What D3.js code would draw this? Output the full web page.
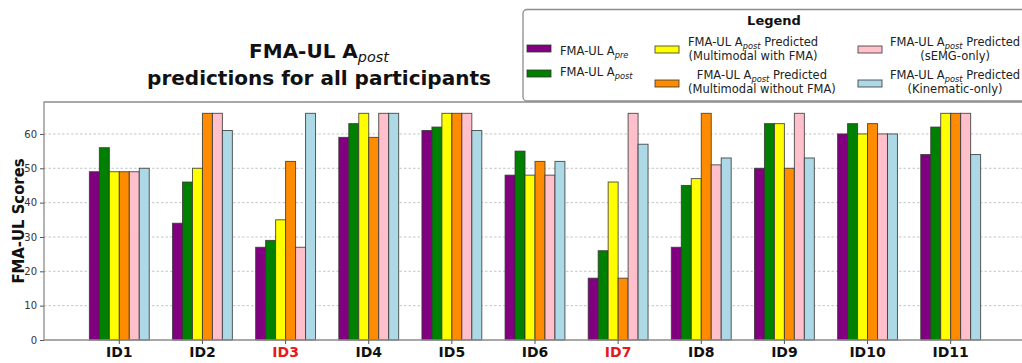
<!DOCTYPE html>
<html>
<head>
<meta charset="utf-8">
<script src="https://cdn.jsdelivr.net/npm/d3@7"></script>
<style>
  html, body { margin: 0; padding: 0; background: #fff; overflow: hidden; }
  svg { display: block; font-family: "DejaVu Sans", sans-serif; }
</style>
</head>
<body>
<svg id="chart" width="1022" height="363"></svg>
<script>
// Participants and their FMA-UL scores
const participants = ["ID1", "ID2", "ID3", "ID4", "ID5", "ID6", "ID7", "ID8", "ID9", "ID10", "ID11"];
const highlighted = ["ID3", "ID7"];

const apre          = [49, 34, 27, 59, 61, 48, 18, 27, 50, 60, 54];
const apost         = [56, 46, 29, 63, 62, 55, 26, 45, 63, 63, 62];
const predWithFma   = [49, 50, 35, 66, 66, 48, 46, 47, 63, 60, 66];
const predNoFma     = [49, 66, 52, 59, 66, 52, 18, 66, 50, 63, 66];
const predSemg      = [49, 66, 27, 66, 66, 48, 66, 51, 66, 60, 66];
const predKinematic = [50, 61, 66, 66, 61, 52, 57, 53, 53, 60, 54];

const yTicks = [0, 10, 20, 30, 40, 50, 60];

const series = [
  { key: "apre",  values: apre,          color: "#800080" },
  { key: "apost", values: apost,         color: "#008000" },
  { key: "withF", values: predWithFma,   color: "#ffff00" },
  { key: "noF",   values: predNoFma,     color: "#ff8c00" },
  { key: "semg",  values: predSemg,      color: "#ffc0cb" },
  { key: "kin",   values: predKinematic, color: "#add8e6" }
];

const svg = d3.select("#chart");

// Plot frame (right edge runs just past the canvas)
const plotL = 44, plotR = 1026, plotT = 102, plotB = 340;

const x = d3.scaleBand()
  .domain(participants)
  .range([plotL, plotR])
  .paddingInner(0)
  .paddingOuter(0.406);

const groupWidth = x.bandwidth() * 0.72;
const xs = d3.scaleBand()
  .domain(series.map(s => s.key))
  .range([0, groupWidth])
  .padding(0);

const y = d3.scaleLinear().domain([0, 69.3]).range([plotB, plotT]);

// Grid
svg.append("g")
  .selectAll("line")
  .data(yTicks.filter(t => t > 0))
  .join("line")
  .attr("x1", plotL).attr("x2", plotR)
  .attr("y1", d => y(d)).attr("y2", d => y(d))
  .attr("stroke", "#b8b8b8")
  .attr("stroke-width", 0.8)
  .attr("stroke-dasharray", "2.5,2");

// Bars
const groups = svg.append("g")
  .selectAll("g")
  .data(participants)
  .join("g")
  .attr("transform", d => `translate(${x(d) + (x.bandwidth() - groupWidth) / 2},0)`);

groups.selectAll("rect")
  .data((p, i) => series.map(s => ({ key: s.key, color: s.color, v: s.values[i] })))
  .join("rect")
  .attr("x", d => xs(d.key))
  .attr("width", xs.bandwidth())
  .attr("y", d => y(d.v))
  .attr("height", d => y(0) - y(d.v))
  .attr("fill", d => d.color)
  .attr("stroke", "#333")
  .attr("stroke-opacity", 0.8)
  .attr("stroke-width", 1);

// Frame: left, top and bottom spines
svg.append("path")
  .attr("d", `M${plotR},${plotT}H${plotL}V${plotB}H${plotR}`)
  .attr("fill", "none")
  .attr("stroke", "#8c8c8c")
  .attr("stroke-width", 1.3);

// Y axis
const yAxis = svg.append("g")
  .attr("transform", `translate(${plotL},0)`)
  .call(d3.axisLeft(y).tickValues(yTicks).tickSize(4).tickPadding(3));
yAxis.select(".domain").remove();
yAxis.selectAll(".tick line").attr("stroke", "#555");
yAxis.selectAll(".tick text")
  .attr("font-family", "DejaVu Sans, sans-serif")
  .attr("font-size", 10)
  .attr("fill", "#333");

// X axis
const xAxis = svg.append("g")
  .attr("transform", `translate(0,${plotB})`)
  .call(d3.axisBottom(x).tickSize(4).tickPadding(3));
xAxis.select(".domain").remove();
xAxis.selectAll(".tick line").attr("stroke", "#555");
xAxis.selectAll(".tick text")
  .attr("font-family", "DejaVu Sans, sans-serif")
  .attr("font-size", 14)
  .attr("font-weight", "bold")
  .attr("fill", d => highlighted.includes(d) ? "#e41a1c" : "#111");

// Y axis label
svg.append("text")
  .attr("transform", `translate(24,${(plotT + plotB) / 2}) rotate(-90) scale(0.9,1)`)
  .attr("text-anchor", "middle")
  .attr("font-size", 16.5)
  .attr("font-weight", "bold")
  .attr("fill", "#111")
  .text("FMA-UL Scores");

// Helper: text with an italic subscript part
function labelWithSub(sel, before, sub, after, size) {
  sel.append("tspan").text(before);
  sel.append("tspan")
    .attr("font-style", "italic")
    .attr("font-weight", "normal")
    .attr("font-size", size * 0.72)
    .attr("dy", size * 0.22)
    .text(sub);
  sel.append("tspan").attr("dy", -size * 0.22).text(after || "");
  return sel;
}

// Title
const title1 = svg.append("text")
  .attr("x", 319).attr("y", 58)
  .attr("text-anchor", "middle")
  .attr("font-size", 20)
  .attr("font-weight", "bold")
  .attr("fill", "#111");
labelWithSub(title1, "FMA-UL A", "post", "", 20);

svg.append("text")
  .attr("x", 319).attr("y", 85)
  .attr("text-anchor", "middle")
  .attr("font-size", 20)
  .attr("font-weight", "bold")
  .attr("fill", "#111")
  .text("predictions for all participants");

// Legend
const legend = svg.append("g");
legend.append("rect")
  .attr("x", 523).attr("y", 9.5)
  .attr("width", 510).attr("height", 91.5)
  .attr("rx", 4)
  .attr("fill", "#fff")
  .attr("stroke", "#8c8c8c")
  .attr("stroke-width", 1.3);

legend.append("text")
  .attr("x", 774).attr("y", 25)
  .attr("text-anchor", "middle")
  .attr("font-size", 13)
  .attr("font-weight", "bold")
  .attr("fill", "#111")
  .text("Legend");

const legendFont = 11.5;
const legendItems = [
  { color: series[0].color, hx: 527, hy: 45, tx: 560, lines: [["FMA-UL A", "pre", ""]], base: [55] },
  { color: series[1].color, hx: 527, hy: 70, tx: 560, lines: [["FMA-UL A", "post", ""]], base: [76] },
  { color: series[2].color, hx: 655, hy: 46, tx: 688, lines: [["FMA-UL A", "post", " Predicted"], ["(Multimodal with FMA)"]], base: [46, 60] },
  { color: series[3].color, hx: 655, hy: 80, tx: 688, lines: [["FMA-UL A", "post", " Predicted"], ["(Multimodal without FMA)"]], base: [79, 93] },
  { color: series[4].color, hx: 858, hy: 46, tx: 890, lines: [["FMA-UL A", "post", " Predicted"], ["(sEMG-only)"]], base: [46, 60] },
  { color: series[5].color, hx: 858, hy: 80, tx: 890, lines: [["FMA-UL A", "post", " Predicted"], ["(Kinematic-only)"]], base: [79, 93] }
];

legendItems.forEach(item => {
  legend.append("rect")
    .attr("x", item.hx).attr("y", item.hy)
    .attr("width", 24).attr("height", 7)
    .attr("fill", item.color)
    .attr("stroke", "#333")
    .attr("stroke-opacity", 0.8)
    .attr("stroke-width", 1);

  const nodes = item.lines.map((ln, i) => {
    const t = legend.append("text")
      .attr("x", item.tx)
      .attr("y", item.base[i])
      .attr("font-size", legendFont)
      .attr("fill", "#222");
    if (ln.length === 3) labelWithSub(t, ln[0], ln[1], ln[2], legendFont);
    else t.text(ln[0]);
    return t;
  });
  if (nodes.length > 1) {
    // centre the lines of a multi-line entry on each other
    const widths = nodes.map(n => n.node().getComputedTextLength());
    const w = d3.max(widths);
    nodes.forEach(n => n.attr("x", item.tx + w / 2).attr("text-anchor", "middle"));
  }
});
</script>
</body>
</html>
